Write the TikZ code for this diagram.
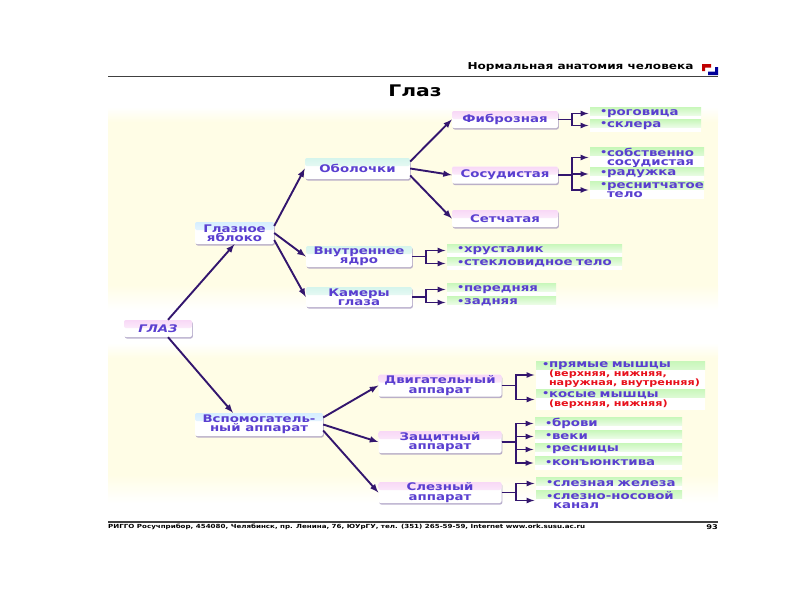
\documentclass[tikz,border=0pt]{standalone}
\usepackage{fontspec}
\setmainfont[FakeStretch=1.27]{DejaVu Sans}
\usetikzlibrary{shadows}
\definecolor{ink}{HTML}{5A3FD0}
\definecolor{conn}{HTML}{33166E}
\definecolor{paper}{HTML}{FFFDE6}
\definecolor{hipink}{HTML}{F8D8F6}
\definecolor{hiblue}{HTML}{D5EEFF}
\definecolor{hicyan}{HTML}{D5F5EC}
\definecolor{higreen}{HTML}{C8F7BA}
\definecolor{redtxt}{HTML}{E8101C}
\newcommand{\bl}{\makebox[7pt][l]{\raisebox{.5pt}{\fontsize{9}{9}\selectfont •}}}
\newcommand{\ind}{\hspace*{7pt}}
\newcommand{\redline}[1]{\mbox{\color{redtxt}\fontsize{8.8}{9}\selectfont #1}}
\tikzset{
  strip/.style={path picture={\shade[top color=#1,bottom color=white]
    (path picture bounding box.north west) rectangle ([yshift=-8pt]path picture bounding box.north east);}},
  organ/.style={fill=white,rounded corners=2pt,inner sep=0pt,align=center,text=ink,
    font=\bfseries\fontsize{10.5}{9.5}\selectfont,
    drop shadow={shadow xshift=.8pt,shadow yshift=-1.5pt,opacity=.75,fill=conn!45}},
  leaf/.style={fill=white,inner ysep=0pt,inner xsep=10pt,align=left,text=ink,strip=higreen,
    font=\bfseries\fontsize{10.5}{9}\selectfont},
  arr/.style={conn,line width=1.9pt,-latex},
  brk/.style={conn,line width=1.6pt,-latex,shorten >=1.5pt}
}
\begin{document}
\begin{tikzpicture}[x=1pt,y=-1pt]
\useasboundingbox (0,0) rectangle (800,600);
\shade[top color=white,bottom color=paper] (108,107) rectangle (718,122);
\fill[paper] (108,122) rectangle (718,285);
\shade[top color=paper,bottom color=white] (108,285) rectangle (718,310);
\shade[top color=white,bottom color=paper] (108,343) rectangle (718,358);
\fill[paper] (108,358) rectangle (718,475);
\shade[top color=paper,bottom color=white] (108,475) rectangle (718,503);
\draw[black!75,line width=1.1pt] (108,76.5) -- (718,76.5);
\draw[black!75,line width=1.1pt] (108,522) -- (718,522);
\node (head) at (580.5,67.5) {\bfseries\fontsize{9.5}{12}\selectfont Нормальная анатомия человека};
\fill[red!75!black] (702,64) rectangle (711,67.5) (702,64) rectangle (705,71);
\fill[blue!60!black] (715,67) rectangle (718,75) (708,71.5) rectangle (718,75);
\node (title) at (415,91) {\bfseries\fontsize{16}{18}\selectfont Глаз};
\node[anchor=west,inner sep=0pt] (foot) at (108,526.5) {\bfseries\fontsize{5.6}{7}\selectfont РИГГО Росучприбор, 454080, Челябинск, пр. Ленина, 76, ЮУрГУ, тел. (351) 265-59-59, Internet www.ork.susu.ac.ru};
\node (page) at (712,527) {\bfseries\fontsize{6.5}{8}\selectfont 93};
\foreach \n/\x/\y/\w/\h/\c/\t in {
  eyeball/234.5/233/79/22/hiblue/{Глазное\\яблоко},
  aux/259/424.5/128/23/hiblue/{Вспомогатель-\\ный аппарат},
  shells/357.5/168.5/105/21/hicyan/{Оболочки},
  core/359/256.5/106/21/hicyan/{Внутреннее\\ядро},
  chambers/359/297/106/20/hicyan/{Камеры\\глаза},
  fibrous/505/119.5/106/17/hipink/{Фиброзная},
  vascular/505/175/106/17/hipink/{Сосудистая},
  retina/505/218.5/106/17/hipink/{Сетчатая},
  motor/440/385.5/123/22/hipink/{Двигательный\\аппарат},
  guard/440/442/123/22/hipink/{Защитный\\аппарат},
  tear/440/492.5/123/21/hipink/{Слезный\\аппарат}}
  \node[organ,strip=\c,minimum width=\w,minimum height=\h] (\n) at (\x,\y) {\t};
\node[organ,strip=hipink,minimum width=68,minimum height=17] (glaz) at (158,328.5) {\itshape ГЛАЗ};
\foreach \n/\x/\y/\w/\h/\t in {
  cornea/645.5/113.5/91/13/{\bl роговица},
  sclera/645.5/125.5/91/12/{\bl склера},
  choroid/647/157.5/94/19/{\bl собственно\\\ind сосудистая},
  iris/647/174/94/14/{\bl радужка},
  ciliary/647/190/94/18/{\bl \mbox{реснитчатое}\\\ind тело},
  lens/534.5/250.5/155/13/{\bl хрусталик},
  vitreous/534.5/263.5/155/13/{\bl стекловидное тело},
  front/501.5/289.5/89/13/{\bl передняя},
  back/501.5/302.5/89/13/{\bl задняя},
  brows/608.5/423.5/127/13/{\bl брови},
  lids/608.5/436.5/127/13/{\bl веки},
  lashes/608.5/449.5/127/13/{\bl ресницы},
  conj/608.5/463/127/14/{\bl конъюнктива},
  gland/609/483.5/126/13/{\mbox{\bl слезная железа}},
  duct/609/500.5/126/21/{\mbox{\bl слезно-носовой}\\\ind канал}}
  \node[leaf,text width=\w] (\n) at (\x,\y) [minimum height=\h] {\t};
\node[leaf,inner xsep=6pt,text width=157,minimum height=28] (straight) at (620.5,375)
  {\bl прямые мышцы\\\ind\redline{(верхняя, нижняя,}\\\ind\redline{наружная, внутренняя)}};
\node[leaf,inner xsep=6pt,text width=157,minimum height=21] (oblique) at (620.5,399.5)
  {\bl косые мышцы\\\ind\redline{(верхняя, нижняя)}};
\draw[arr] ([xshift=10]glaz.north) -- (eyeball.south);
\draw[arr] ([xshift=10]glaz.south) -- ([xshift=-26]aux.north);
\foreach \a/\s/\b in {eyeball/-7/shells,eyeball/0/core,eyeball/7/chambers,
  shells/-7/fibrous,shells/0/vascular,shells/7/retina,
  aux/-7/motor,aux/0/guard,aux/6/tear}
  \draw[arr] ([yshift=-\s]\a.east) -- (\b.west);
\foreach \a/\b in {fibrous/cornea,fibrous/sclera,vascular/choroid,vascular/iris,vascular/ciliary,
  core/lens,core/vitreous,chambers/front,chambers/back,
  motor/straight,motor/oblique,guard/brows,guard/lids,guard/lashes,guard/conj,tear/gland,tear/duct}
  \draw[brk] (\a.east) -- ++(14,0) |- (\b.west);
\end{tikzpicture}
\end{document}
